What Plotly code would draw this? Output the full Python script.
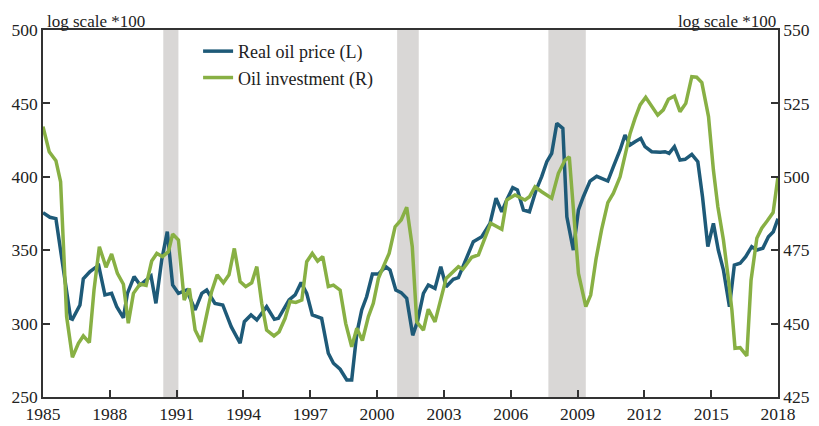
import plotly.graph_objects as go

# ---- Data ----
price_dates = [1985.0, 1985.31, 1985.58, 1986.24, 1986.32, 1986.66, 1986.81, 1987.11, 1987.41, 1987.5,
               1987.78, 1988.08, 1988.31, 1988.61, 1988.79, 1989.09, 1989.36, 1989.63, 1989.85, 1990.07,
               1990.33, 1990.58, 1990.82, 1991.08, 1991.45, 1991.83, 1992.13, 1992.35, 1992.72, 1993.07,
               1993.45, 1993.85, 1994.04, 1994.34, 1994.60, 1995.04, 1995.39, 1995.57, 1996.05, 1996.32,
               1996.59, 1996.84, 1997.09, 1997.51, 1997.81, 1998.04, 1998.34, 1998.64, 1998.86, 1999.09,
               1999.31, 1999.53, 1999.79, 2000.06, 2000.39, 2000.58, 2000.84, 2001.08, 2001.33, 2001.60,
               2001.81, 2002.08, 2002.30, 2002.60, 2002.86, 2003.10, 2003.42, 2003.65, 2004.03, 2004.32,
               2004.70, 2005.07, 2005.34, 2005.60, 2005.82, 2006.09, 2006.30, 2006.57, 2006.84, 2007.14,
               2007.39, 2007.62, 2007.84, 2008.07, 2008.34, 2008.52, 2008.81, 2009.04, 2009.26, 2009.56,
               2009.86, 2010.36, 2010.61, 2010.91, 2011.13, 2011.36, 2011.58, 2011.84, 2012.03, 2012.33,
               2012.71, 2012.93, 2013.11, 2013.35, 2013.60, 2013.83, 2014.13, 2014.40, 2014.61, 2014.85,
               2015.10, 2015.32, 2015.55, 2015.82, 2016.04, 2016.30, 2016.55, 2016.82, 2017.05, 2017.32,
               2017.57, 2017.79, 2018.0]
real_oil_price = [375.5, 372.4, 371.5, 303.5, 303.0, 312.7, 330.5, 335.4, 338.8, 339.5,
                  319.5, 320.6, 311.5, 304.0, 320.6, 332.0, 326.3, 329.7, 332.4, 313.8,
                  343.3, 362.6, 326.3, 320.6, 322.9, 309.3, 320.6, 322.9, 313.8, 312.7,
                  297.9, 286.6, 301.3, 305.9, 302.5, 311.5, 302.9, 303.6, 316.1, 319.5,
                  327.9, 320.6, 305.9, 303.6, 279.8, 273.0, 268.9, 261.6, 261.6, 293.4,
                  309.3, 318.3, 333.8, 333.8, 338.8, 336.5, 322.9, 321.1, 317.2, 292.0,
                  301.3, 320.6, 326.3, 324.0, 338.8, 325.1, 330.2, 331.3, 344.5, 355.8,
                  359.2, 368.3, 385.4, 376.2, 384.2, 392.6, 391.0, 377.4, 376.2, 391.0,
                  400.1, 410.3, 416.0, 436.4, 433.0, 372.8, 350.1, 377.4, 386.4, 397.1,
                  400.3, 397.1, 406.9, 418.3, 428.5, 421.7, 423.9, 426.2, 420.5, 417.1,
                  416.7, 417.1, 416.0, 420.5, 411.4, 411.9, 415.3, 410.3, 386.4, 352.4,
                  368.3, 350.1, 336.5, 311.5, 339.9, 341.1, 345.6, 352.4, 350.1, 351.3,
                  359.2, 362.6, 371.5]

invest_dates = [1985.0, 1985.28, 1985.58, 1985.79, 1986.06, 1986.32, 1986.59, 1986.81, 1987.08, 1987.29,
                1987.53, 1987.83, 1988.08, 1988.34, 1988.61, 1988.83, 1989.06, 1989.36, 1989.63, 1989.88,
                1990.11, 1990.37, 1990.63, 1990.82, 1991.08, 1991.34, 1991.57, 1991.83, 1992.09, 1992.35,
                1992.57, 1992.82, 1993.10, 1993.35, 1993.59, 1993.85, 1994.10, 1994.37, 1994.60, 1994.82,
                1995.04, 1995.37, 1995.60, 1995.87, 1996.09, 1996.35, 1996.62, 1996.84, 1997.09, 1997.33,
                1997.56, 1997.81, 1998.04, 1998.34, 1998.59, 1998.86, 1999.09, 1999.34, 1999.61, 1999.83,
                2000.06, 2000.28, 2000.54, 2000.81, 2001.08, 2001.33, 2001.58, 2001.78, 2002.08, 2002.30,
                2002.60, 2003.10, 2003.65, 2003.85, 2004.25, 2004.55, 2004.80, 2005.10, 2005.60, 2005.82,
                2006.19, 2006.64, 2006.84, 2007.09, 2007.39, 2007.84, 2008.14, 2008.44, 2008.63, 2008.81,
                2009.04, 2009.37, 2009.59, 2009.83, 2010.08, 2010.36, 2010.61, 2010.91, 2011.13, 2011.36,
                2011.58, 2011.81, 2012.06, 2012.33, 2012.60, 2012.85, 2013.08, 2013.35, 2013.60, 2013.86,
                2014.13, 2014.35, 2014.58, 2014.88, 2015.10, 2015.30, 2015.55, 2015.78, 2015.93, 2016.07,
                2016.30, 2016.60, 2016.79, 2017.05, 2017.27, 2017.52, 2017.78, 2018.0]
oil_investment = [517.1, 508.5, 505.5, 498.3, 452.4, 438.5, 443.3, 445.8, 443.5, 461.4,
                  476.2, 469.2, 473.7, 467.1, 463.4, 450.1, 460.3, 463.5, 463.0, 471.3,
                  473.9, 472.8, 474.5, 480.5, 478.5, 458.0, 462.0, 447.8, 443.8, 452.4,
                  460.9, 466.6, 463.9, 466.6, 475.6, 464.3, 462.6, 463.9, 469.4, 456.9,
                  447.8, 445.8, 447.2, 451.8, 457.5, 457.2, 458.0, 471.1, 473.9, 471.3,
                  472.8, 462.6, 463.1, 461.4, 450.1, 442.1, 448.4, 444.2, 452.4, 456.9,
                  465.4, 469.4, 473.9, 483.0, 485.3, 489.6, 476.2, 450.6, 447.8, 454.9,
                  450.6, 465.4, 469.4, 468.5, 472.6, 473.4, 478.5, 484.2, 482.1, 492.1,
                  493.8, 492.1, 493.2, 496.6, 494.9, 492.7, 501.2, 505.7, 506.8, 489.8,
                  467.1, 455.8, 459.7, 472.0, 482.0, 491.2, 494.4, 500.0, 506.8, 514.8,
                  519.9, 524.5, 527.1, 523.9, 521.0, 522.8, 526.4, 527.5, 522.2, 525.0,
                  534.1, 533.9, 532.1, 520.5, 502.3, 489.8, 478.5, 464.8, 454.6, 441.6,
                  441.8, 439.0, 464.8, 479.1, 482.5, 485.0, 487.8, 500.0]

recession_starts = [1990.40, 2000.90, 2007.69]
recession_ends = [1991.08, 2001.87, 2009.37]

x_ticks = list(range(1985, 2019, 3))
x_tick_labels = [str(y) for y in x_ticks]
left_ticks = [250, 300, 350, 400, 450, 500]
right_ticks = [425, 450, 475, 500, 525, 550]

BLUE = "#1e5a78"
GREEN = "#88b044"
FONT = "Liberation Serif"
AXIS = "#333333"
TICKFONT = dict(family=FONT, size=17.5, color="#222222")

fig = go.Figure()
fig.add_trace(go.Scatter(x=price_dates, y=real_oil_price, mode="lines", name="Real oil price (L)",
                         line=dict(color=BLUE, width=3.5), yaxis="y"))
fig.add_trace(go.Scatter(x=invest_dates, y=oil_investment, mode="lines", name="Oil investment (R)",
                         line=dict(color=GREEN, width=3.5), yaxis="y2"))

for s, e in zip(recession_starts, recession_ends):
    fig.add_shape(type="rect", xref="x", yref="paper", x0=s, x1=e, y0=0, y1=1,
                  fillcolor="#d9d7d6", line=dict(width=0), layer="below")

# the page body adds an 8px offset, so the figure is sized 8px smaller
fig.update_layout(
    width=811, height=418,
    margin=dict(l=35, r=41, t=22, b=29, autoexpand=False),
    paper_bgcolor="white", plot_bgcolor="white",
    font=dict(family=FONT, size=17, color="#222222"),
    showlegend=True,
    legend=dict(x=0.211, y=0.992, xanchor="left", yanchor="top", bgcolor="rgba(0,0,0,0)",
                font=dict(family=FONT, size=18), tracegroupgap=0, itemwidth=30),
    xaxis=dict(range=[1985, 2018], tickvals=x_ticks, ticktext=x_tick_labels, automargin=False,
               ticks="inside", ticklen=7, tickcolor=AXIS, tickwidth=1.5, tickfont=TICKFONT,
               showline=True, linecolor=AXIS, linewidth=1.5, mirror=True,
               showgrid=False, zeroline=False),
    yaxis=dict(range=[250, 500], tickvals=left_ticks, ticks="inside", ticklen=7, automargin=False,
               tickcolor=AXIS, tickwidth=1.5, showline=True, linecolor=AXIS, linewidth=1.5,
               tickfont=TICKFONT, showgrid=False, zeroline=False),
    yaxis2=dict(range=[425, 550], tickvals=right_ticks, ticks="inside", ticklen=7, automargin=False,
                tickcolor=AXIS, tickwidth=1.5, showline=True, linecolor=AXIS, linewidth=1.5,
                tickfont=TICKFONT, overlaying="y", side="right", showgrid=False, zeroline=False),
)

fig.add_annotation(text="log scale *100", xref="paper", yref="paper", x=0.003, y=1.0,
                   xanchor="left", yanchor="bottom", showarrow=False,
                   font=dict(family=FONT, size=17, color="#222222"), yshift=-3)
fig.add_annotation(text="log scale *100", xref="paper", yref="paper", x=1.0, y=1.0,
                   xanchor="right", yanchor="bottom", showarrow=False,
                   font=dict(family=FONT, size=17, color="#222222"), yshift=-3)

fig.write_html("out.html")
